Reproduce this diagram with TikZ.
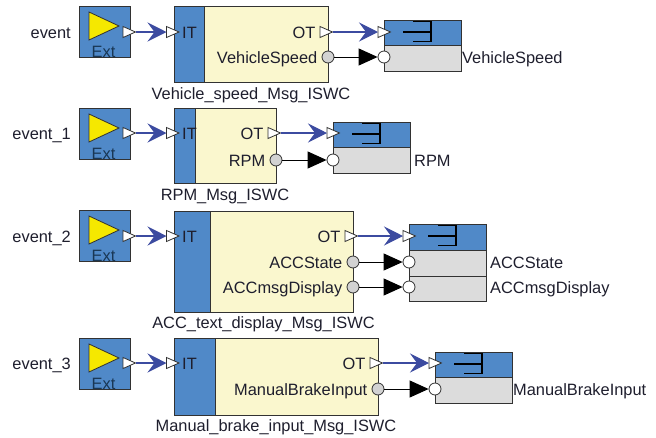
\documentclass[tikz,border=0pt]{standalone}
\usepackage{fontspec}
\setmainfont{Liberation Sans}
\usetikzlibrary{arrows.meta}
\definecolor{blueF}{RGB}{80,137,200}
\definecolor{yellowF}{RGB}{250,247,206}
\definecolor{grayF}{RGB}{220,220,220}
\definecolor{portG}{RGB}{210,210,210}
\definecolor{yTri}{RGB}{245,232,0}
\definecolor{lineC}{RGB}{50,50,50}
\definecolor{connB}{RGB}{60,75,160}
\definecolor{txtC}{RGB}{30,30,45}
\definecolor{extC}{RGB}{25,55,85}
\tikzset{
  lbl/.style={inner sep=0pt, text=txtC, font=\fontsize{16.4}{19}\selectfont},
  exttxt/.style={inner sep=0pt, text=extC, font=\fontsize{16.4}{19}\selectfont},
  extbox/.style={draw=lineC, line width=0.9pt, fill=blueF, anchor=north west, minimum width=51pt, minimum height=51pt, inner sep=0pt},
  swcbox/.style={draw=lineC, line width=0.9pt, fill=yellowF, anchor=north west, inner sep=0pt},
  recbox/.style={draw=lineC, line width=0.9pt, fill=grayF, anchor=north west, inner sep=0pt, minimum width=77pt},
  bluepart/.style={draw=lineC, line width=0.9pt, fill=blueF},
  ytri/.style={draw=lineC, line width=0.8pt, fill=yTri},
  tport/.style={draw=lineC, line width=0.8pt, fill=white},
  gport/.style={circle, draw=lineC, line width=0.8pt, fill=portG, minimum size=12pt, inner sep=0pt},
  wport/.style={circle, draw=lineC, line width=0.8pt, fill=white, minimum size=12pt, inner sep=0pt},
  icon/.style={draw=black, line width=1.2pt},
  bconn/.style={draw=connB, line width=1.1pt, -{Stealth[length=19pt,width=19pt,inset=7pt,fill=connB]}},
  dconn/.style={draw=black, line width=1pt, -{Triangle[length=19pt,width=17pt]}}
}
\newcommand{\tportAt}[3]{%
  \draw[tport] (#2,#3-5.5) -- ++(12.5,5.5) -- ++(-12.5,5.5) -- cycle;
  \coordinate (#1w) at (#2,#3);
  \coordinate (#1e) at (#2+12.5,#3);}
\newcommand{\extAt}[3]{% name, top, port y
  \node[extbox] (#1) at (79,#2) {};
  \draw[ytri] (89,#2+6) -- (119,#2+20) -- (89,#2+34) -- cycle;
  \node[exttxt, anchor=base] (#1t) at (103.5,#2+51.5) {Ext};}
\newcommand{\recIcon}[2]{% L, T
  \draw[icon] (#1+19,#2+12) -- (#1+47,#2+12);
  \draw[icon] (#1+29,#2+1.5) -- (#1+47,#2+1.5) -- (#1+47,#2+21.5) -- (#1+29,#2+21.5);}
\begin{document}
\begin{tikzpicture}[x=1pt,y=-1pt]
\useasboundingbox (0,0) rectangle (656,437);

% ---------- Row 1 ----------
\node[lbl, anchor=base east] (ev1) at (71,38) {event};
\extAt{ext1}{6}{32}
\tportAt{e1}{123}{32}
\node[swcbox, minimum width=154pt, minimum height=76pt] (s1) at (174,6) {};
\draw[bluepart] (174,6) rectangle (204,82);
\tportAt{i1}{166.5}{32}
\node[lbl, anchor=base west] (it1) at (182,38) {IT};
\tportAt{o1}{320}{32}
\node[lbl, anchor=base east] (ot1) at (315.5,38) {OT};
\node[gport] (d1) at (328,57) {};
\node[lbl, anchor=base east] (dl1) at (317.5,63) {VehicleSpeed};
\node[lbl, anchor=base] (sl1) at (251,99) {Vehicle\_speed\_Msg\_ISWC};
\node[recbox, minimum height=51pt] (r1) at (384,20) {};
\draw[bluepart] (384,20) rectangle (461,45);
\recIcon{384}{20}
\tportAt{ri1}{378}{32}
\node[wport] (rd1) at (384,57) {};
\node[lbl, anchor=base west] (rl1) at (462,63) {VehicleSpeed};
\draw[bconn] (e1e) -- (i1w);
\draw[bconn] (o1e) -- (ri1w);
\draw[dconn] (d1.east) -- (rd1.west);

% ---------- Row 2 ----------
\node[lbl, anchor=base east] (ev2) at (71,139) {event\_1};
\extAt{ext2}{108}{133}
\tportAt{e2}{123}{133}
\node[swcbox, minimum width=102pt, minimum height=75pt] (s2) at (174,108) {};
\draw[bluepart] (174,108) rectangle (195,183);
\tportAt{i2}{166.5}{133}
\node[lbl, anchor=base west] (it2) at (182,139) {IT};
\tportAt{o2}{268}{133}
\node[lbl, anchor=base east] (ot2) at (263.5,139) {OT};
\node[gport] (d2) at (276,160) {};
\node[lbl, anchor=base east] (dl2) at (265.5,166) {RPM};
\node[lbl, anchor=base] (sl2) at (225,200) {RPM\_Msg\_ISWC};
\node[recbox, minimum height=51pt] (r2) at (333,122) {};
\draw[bluepart] (333,122) rectangle (410,147);
\recIcon{333}{122}
\tportAt{ri2}{327}{133}
\node[wport] (rd2) at (333,160) {};
\node[lbl, anchor=base west] (rl2) at (414,166) {RPM};
\draw[bconn] (e2e) -- (i2w);
\draw[bconn] (o2e) -- (ri2w);
\draw[dconn] (d2.east) -- (rd2.west);

% ---------- Row 3 ----------
\node[lbl, anchor=base east] (ev3) at (71,242) {event\_2};
\extAt{ext3}{210}{236}
\tportAt{e3}{123}{236}
\node[swcbox, minimum width=179pt, minimum height=101pt] (s3) at (174,211) {};
\draw[bluepart] (174,211) rectangle (210,312);
\tportAt{i3}{166.5}{236}
\node[lbl, anchor=base west] (it3) at (182,242) {IT};
\tportAt{o3}{345}{236}
\node[lbl, anchor=base east] (ot3) at (340.5,242) {OT};
\node[gport] (d3a) at (353,262) {};
\node[lbl, anchor=base east] (dl3a) at (342.5,268) {ACCState};
\node[gport] (d3b) at (353,287) {};
\node[lbl, anchor=base east] (dl3b) at (342.5,293) {ACCmsgDisplay};
\node[lbl, anchor=base] (sl3) at (263.5,328.5) {ACC\_text\_display\_Msg\_ISWC};
\node[recbox, minimum height=77pt] (r3) at (409,224) {};
\draw[bluepart] (409,224) rectangle (486,250);
\draw[draw=lineC, line width=0.9pt] (409,276) -- (486,276);
\recIcon{409}{224}
\tportAt{ri3}{403}{236}
\node[wport] (rd3a) at (409,262) {};
\node[wport] (rd3b) at (409,287) {};
\node[lbl, anchor=base west] (rl3a) at (490,268) {ACCState};
\node[lbl, anchor=base west] (rl3b) at (490,293) {ACCmsgDisplay};
\draw[bconn] (e3e) -- (i3w);
\draw[bconn] (o3e) -- (ri3w);
\draw[dconn] (d3a.east) -- (rd3a.west);
\draw[dconn] (d3b.east) -- (rd3b.west);

% ---------- Row 4 ----------
\node[lbl, anchor=base east] (ev4) at (71,369) {event\_3};
\extAt{ext4}{338}{363}
\tportAt{e4}{123}{363}
\node[swcbox, minimum width=204pt, minimum height=77pt] (s4) at (174,338) {};
\draw[bluepart] (174,338) rectangle (215,415);
\tportAt{i4}{166.5}{363}
\node[lbl, anchor=base west] (it4) at (182,369) {IT};
\tportAt{o4}{370}{363}
\node[lbl, anchor=base east] (ot4) at (365.5,369) {OT};
\node[gport] (d4) at (378,389) {};
\node[lbl, anchor=base east] (dl4) at (367.5,395) {ManualBrakeInput};
\node[lbl, anchor=base] (sl4) at (276,431.5) {Manual\_brake\_input\_Msg\_ISWC};
\node[recbox, minimum height=51pt] (r4) at (435,352) {};
\draw[bluepart] (435,352) rectangle (512,377);
\recIcon{435}{352}
\tportAt{ri4}{429}{363}
\node[wport] (rd4) at (435,389) {};
\node[lbl, anchor=base west] (rl4) at (513,395) {ManualBrakeInput};
\draw[bconn] (e4e) -- (i4w);
\draw[bconn] (o4e) -- (ri4w);
\draw[dconn] (d4.east) -- (rd4.west);
\end{tikzpicture}
\end{document}
